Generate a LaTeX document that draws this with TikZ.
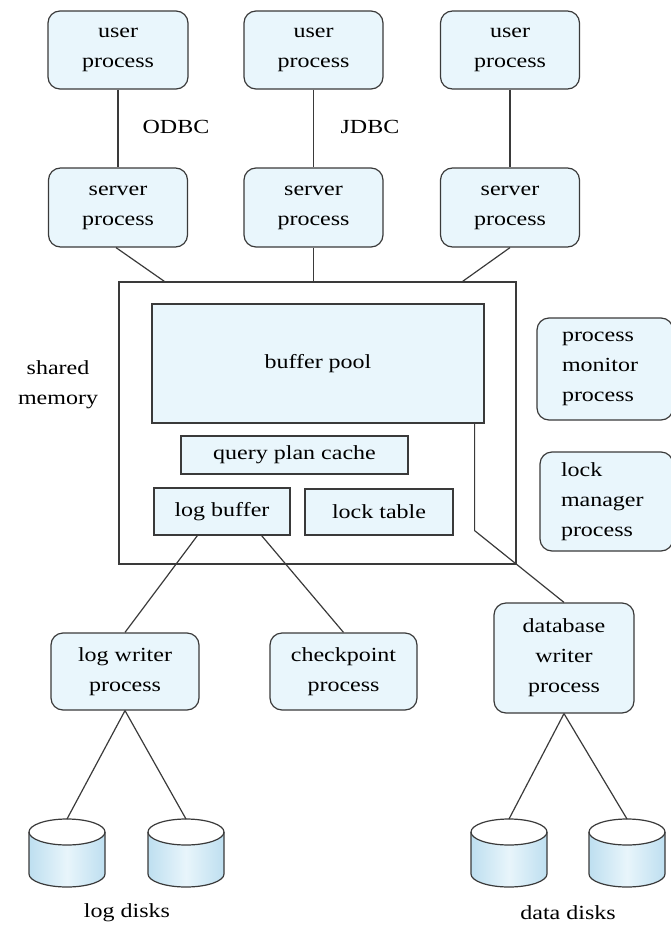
\documentclass[tikz,border=0pt]{standalone}
\usepackage{fontspec}
\setmainfont{Liberation Serif}[FakeStretch=1.2]
\usepackage{tikz}
\usetikzlibrary{calc}
\definecolor{boxc}{HTML}{E9F6FC}
\definecolor{linec}{HTML}{3A3A3A}
\definecolor{diskc}{HTML}{BEDFF0}
\definecolor{disklight}{HTML}{E8F5FB}
\newcommand{\txt}{\fontsize{20}{30}\selectfont}

\begin{document}
\begin{tikzpicture}[x=1pt,y=1pt,line width=1.2pt,
    proc/.style={draw=linec,fill=boxc,rounded corners=12pt,align=center,
      font=\txt,inner sep=0pt},
    mem/.style={draw=linec,fill=boxc,align=center,font=\txt,inner sep=0pt},
    lbl/.style={font=\txt,align=center,inner sep=0pt}]
  \useasboundingbox (0,0) rectangle (671,-926);
  % ---------- client side
  \node[proc,minimum width=140,minimum height=78] (u1) at (118,-50) {user\\process};
  \node[proc,minimum width=139,minimum height=78] (u2) at (313.5,-50) {user\\process};
  \node[proc,minimum width=139,minimum height=78] (u3) at (510,-50) {user\\process};
  \node[proc,minimum width=139,minimum height=79] (s1) at (118,-207.5) {server\\process};
  \node[proc,minimum width=139,minimum height=79] (s2) at (313.5,-207.5) {server\\process};
  \node[proc,minimum width=139,minimum height=79] (s3) at (510,-207.5) {server\\process};
  \node[lbl] (odbc) at (176,-127) {ODBC};
  \node[lbl] (jdbc) at (370,-127) {JDBC};
  \draw[linec] (u1.south) -- (s1.north);
  \draw[linec] (u2.south) -- (s2.north);
  \draw[linec] (u3.south) -- (s3.north);
  % ---------- shared memory
  \node[draw=linec,minimum width=397,minimum height=282,inner sep=0pt] (shm) at (317.5,-423) {};
  \node[lbl] (shmlbl) at (58,-385) {shared\\memory};
  \node[mem,minimum width=332,minimum height=119] (bp) at (318,-363.5) {buffer pool};
  \node[mem,minimum width=227,minimum height=38] (qpc) at (294.5,-455) {query plan cache};
  \node[mem,minimum width=136,minimum height=47] (lb) at (222,-511.5) {log buffer};
  \node[mem,minimum width=148,minimum height=46] (lt) at (379,-512) {lock table};
  \draw[linec] ($(s1.south)+(-2,0)$) -- ($(shm.north west)+(46,0)$);
  \draw[linec] (s2.south) -- (s2.south |- shm.north);
  \draw[linec] (s3.south) -- ($(shm.north east)+(-54,0)$);
  % ---------- other processes
  \node[proc,minimum width=136,minimum height=102,text width=86,inner xsep=25,align=left] (pm) at (605,-369) {process\\monitor\\process};
  \node[proc,minimum width=133,minimum height=99,text width=91,inner xsep=21,align=left] (lm) at (606.5,-501.5) {lock\\manager\\process};
  \node[proc,minimum width=148,minimum height=77] (lw) at (125,-671.5) {log writer\\process};
  \node[proc,minimum width=147,minimum height=77] (cp) at (343.5,-671.5) {checkpoint\\process};
  \node[proc,minimum width=140,minimum height=110] (dw) at (564,-658) {database\\writer\\process};
  \draw[linec] ($(lb.south west)+(44,0)$) -- (lw.north);
  \draw[linec] ($(lb.south east)+(-29,0)$) -- (cp.north);
  \draw[linec] ($(bp.south east)+(-10,0)$) -- ++(0,-107) -- (dw.north);
  % ---------- disks
  \foreach \n/\x in {d1/67,d2/186,d3/509,d4/627}{
    \shade[left color=diskc,right color=diskc,middle color=disklight]
      (\x-38,-832) -- (\x-38,-874) arc[start angle=180,end angle=360,x radius=38pt,y radius=13pt] -- (\x+38,-832) -- cycle;
    \draw[linec,fill=white] (\x,-832) ellipse [x radius=38pt,y radius=13pt];
    \draw[linec] (\x-38,-832) -- (\x-38,-874) arc[start angle=180,end angle=360,x radius=38pt,y radius=13pt] -- (\x+38,-832);
    \coordinate (\n) at (\x,-819);
  }
  \draw[linec] (lw.south) -- (d1);
  \draw[linec] (lw.south) -- (d2);
  \draw[linec] (dw.south) -- (d3);
  \draw[linec] (dw.south) -- (d4);
  \node[lbl] (logd) at (127,-913) {log disks};
  \node[lbl] (datad) at (568,-913) {data disks};
\end{tikzpicture}
\end{document}
